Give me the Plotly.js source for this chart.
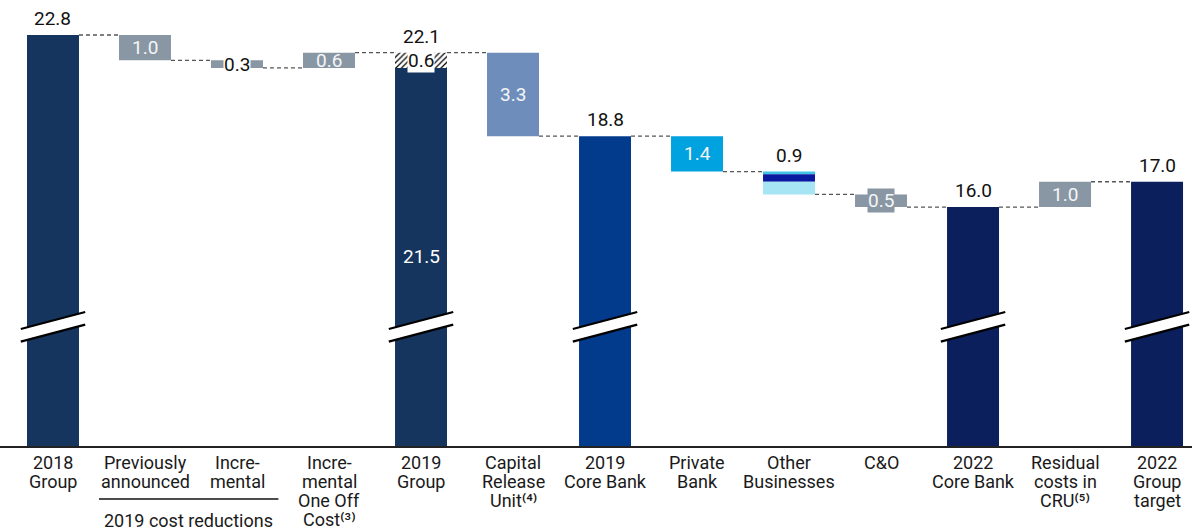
<!DOCTYPE html>
<html><head><meta charset="utf-8">
<script src="https://cdn.plot.ly/plotly-3.0.1.min.js"></script>
<style>html,body{margin:0;padding:0;background:#fff;} #chart{width:1192px;height:532px;}</style>
</head><body><div id="chart"></div>
<script>
// ---- data ----
const categories = ['2018<br>Group', 'Previously<br>announced', 'Incre-<br>mental',
  'Incre-<br>mental<br>One Off<br>Cost⁽³⁾', '2019<br>Group',
  'Capital<br>Release<br>Unit⁽⁴⁾', '2019<br>Core Bank', 'Private<br>Bank',
  'Other<br>Businesses', 'C&amp;O', '2022<br>Core Bank', 'Residual<br>costs in<br>CRU⁽⁵⁾',
  '2022<br>Group<br>target'];
const measures = ['total','relative','relative','relative','total','relative','total',
  'relative','relative','relative','total','relative','total'];
const values = [22.8, -1.0, -0.3, 0.6, 22.1, -3.3, 18.8, -1.4, -0.9, -0.5, 16.0, 1.0, 17.0];
const oneOffPart = 0.6;              // hatched top part of 2019 Group
const otherParts = [0.1, 0.3, 0.5];  // Other Businesses split, top to bottom
const groupLabel = '2019 cost reductions';
const groupMembers = [1, 2];

// ---- styles ----
const NAVY = '#15355f', GRAY = '#8996a3';
const colors = [NAVY, GRAY, GRAY, GRAY, NAVY, '#6f8dbb', '#033b8c', '#00a2df', null, GRAY, '#0b1f5c', GRAY, '#0b1f5c'];
const otherColors = ['#3fc3e6', '#0a1aa0', '#a6e5f3'];
const labelMode = ['above','in','inWhite','in','above','in','above','in','above','inGray','above','in','above'];
const FONT = "Roboto, 'Liberation Sans', Arial, 'DejaVu Sans', sans-serif";
const yMin = 6.555, yMax = 24.183;
const barW = 0.565, hw = barW / 2;

// ---- compute waterfall ----
const n = categories.length;
let running = 0;
const starts = [], ends = [];
values.forEach((v, i) => {
  if (measures[i] === 'total') { starts.push(0); ends.push(v); running = v; }
  else { starts.push(running); ends.push(running + v); running += v; }
});

const mx = [], mb = [], my = [], mc = [];
for (let i = 0; i < n; i++) {
  if (i === 4) { mx.push(i); mb.push(0); my.push(ends[i] - oneOffPart); mc.push(colors[i]); continue; }
  if (i === 8) {
    let top = starts[i];
    otherParts.forEach((p, k) => { mx.push(i); mb.push(top - p); my.push(p); mc.push(otherColors[k]); top -= p; });
    continue;
  }
  mx.push(i); mb.push(Math.min(starts[i], ends[i])); my.push(Math.abs(ends[i] - starts[i])); mc.push(colors[i]);
}

const traces = [
  { type: 'bar', x: mx, base: mb, y: my, width: barW, marker: { color: mc, line: { width: 0 } }, hoverinfo: 'skip', showlegend: false },
  { type: 'bar', x: [4], base: [ends[4] - oneOffPart], y: [oneOffPart], width: barW,
    marker: { color: '#ffffff', line: { width: 0 }, pattern: { shape: '/', fgcolor: '#000', bgcolor: '#fff', size: 4, solidity: 0.3 } },
    hoverinfo: 'skip', showlegend: false }
];

const shapes = [];
// connectors
for (let i = 0; i < n - 1; i++) {
  shapes.push({ type: 'line', xref: 'x', yref: 'y', x0: i + hw, x1: i + 1 - hw, y0: ends[i], y1: ends[i],
    line: { color: '#555', width: 1.3, dash: '4px,3px' } });
}
// axis breaks on total bars
const bL = 10.93, bR = 11.6, bGap = 0.25, bx = 0.35;
for (let i = 0; i < n; i++) {
  if (measures[i] !== 'total') continue;
  const xl = i - bx, xr = i + bx;
  shapes.push({ type: 'path', xref: 'x', yref: 'y',
    path: `M${xl},${bL - bGap} L${xr},${bR - bGap} L${xr},${bR + bGap} L${xl},${bL + bGap} Z`,
    fillcolor: '#fff', line: { width: 0 } });
  shapes.push({ type: 'line', xref: 'x', yref: 'y', x0: xl, x1: xr, y0: bL + bGap, y1: bR + bGap, line: { color: '#000', width: 2.2 } });
  shapes.push({ type: 'line', xref: 'x', yref: 'y', x0: xl, x1: xr, y0: bL - bGap, y1: bR - bGap, line: { color: '#000', width: 2.2 } });
}
// group underline
const g0 = Math.min(...groupMembers) - 0.5, g1 = Math.max(...groupMembers) + 0.45;
shapes.push({ type: 'line', xref: 'x', yref: 'paper', x0: g0, x1: g1, y0: -53 / 446, y1: -53 / 446, line: { color: '#111', width: 1.5 } });

const annotations = [];
const fmt = v => Math.abs(v).toFixed(1);
for (let i = 0; i < n; i++) {
  const lo = Math.min(starts[i], ends[i]), hi = Math.max(starts[i], ends[i]);
  const m = labelMode[i];
  const base = { x: i, xref: 'x', yref: 'y', showarrow: false, text: fmt(values[i]), font: { family: FONT, size: 19, color: '#111' } };
  if (m === 'above') annotations.push({ ...base, y: hi, yanchor: 'bottom', yshift: 3 });
  else if (m === 'in') annotations.push({ ...base, y: (lo + hi) / 2, yanchor: 'middle', font: { ...base.font, color: '#f4f6f8' } });
  else if (m === 'inWhite') annotations.push({ ...base, y: (lo + hi) / 2, yanchor: 'middle', bgcolor: '#fff', borderpad: 0 });
  else if (m === 'inGray') annotations.push({ ...base, y: (lo + hi) / 2, yanchor: 'middle', bgcolor: GRAY, borderpad: 0, font: { ...base.font, color: '#f4f6f8' } });
}
// 2019 Group inner labels
const solid4 = ends[4] - oneOffPart;
annotations.push({ x: 4, y: (yMin + solid4) / 2, xref: 'x', yref: 'y', showarrow: false, text: solid4.toFixed(1), font: { family: FONT, size: 19, color: '#fff' } });
annotations.push({ x: 4, y: solid4 + oneOffPart / 2, xref: 'x', yref: 'y', showarrow: false, text: oneOffPart.toFixed(1), bgcolor: '#fff', borderpad: 0, font: { family: FONT, size: 19, color: '#111' } });

// category labels, one annotation per line
categories.forEach((c, i) => {
  c.split('<br>').forEach((line, j) => {
    annotations.push({ x: i, y: 0, xref: 'x', yref: 'paper', yanchor: 'middle', yshift: -16.5 - j * 19, showarrow: false,
      borderpad: 0, text: line, font: { family: FONT, size: 18, color: '#1a1a1a' } });
  });
});
annotations.push({ x: (g0 + g1) / 2, y: 0, xref: 'x', yref: 'paper', yanchor: 'middle', yshift: -74.5, showarrow: false,
  borderpad: 0, text: groupLabel, font: { family: FONT, size: 18, color: '#1a1a1a' } });

const layout = {
  width: 1192, height: 532,
  margin: { l: 0, r: 0, t: 0, b: 86 },
  paper_bgcolor: '#fff', plot_bgcolor: '#fff',
  barmode: 'overlay',
  showlegend: false,
  xaxis: { range: [-0.576, 12.38], showgrid: false, zeroline: false, showticklabels: false, ticks: '',
    showline: true, linecolor: '#222', linewidth: 2, fixedrange: true },
  yaxis: { range: [yMin, yMax], visible: false, fixedrange: true },
  shapes, annotations
};
Plotly.newPlot('chart', traces, layout, { displayModeBar: false, staticPlot: true });
</script></body></html>
